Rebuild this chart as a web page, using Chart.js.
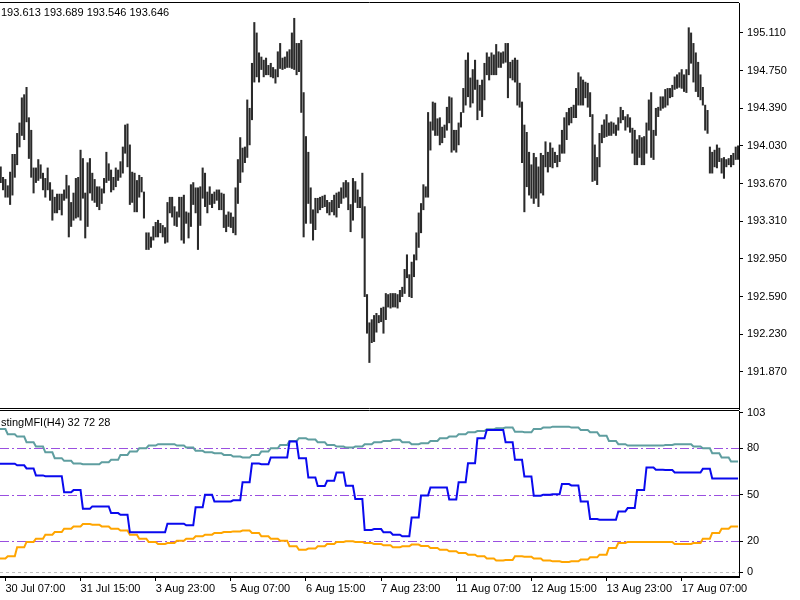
<!DOCTYPE html>
<html>
<head>
<meta charset="utf-8">
<script src="https://cdn.jsdelivr.net/npm/chart.js@4.4.1/dist/chart.umd.min.js"></script>
<style>
  body { margin: 0; background: #fff; }
  #wrap { position: relative; width: 800px; height: 600px; }
  #priceChart { position: absolute; left: 0; top: 0; width: 800px; height: 411px; }
  #mfiChart { position: absolute; left: 0; top: 400px; width: 800px; height: 200px; }
</style>
</head>
<body>
<div id="wrap">
  <canvas id="priceChart" width="800" height="411"></canvas>
  <canvas id="mfiChart" width="800" height="200"></canvas>
</div>
<script>
// H1 bars, high / low
const barHigh = [
  193.83,193.73,193.71,193.65,193.78,193.95,193.95,194.15,194.25,194.49,194.52,194.59,194.30,194.18,193.82,
  193.82,193.90,193.85,193.77,193.72,193.82,193.68,193.61,193.54,193.57,193.57,193.57,193.61,193.75,193.65,
  193.49,193.58,193.72,193.73,193.99,193.91,193.58,193.87,193.91,193.77,193.71,193.64,193.64,193.62,193.72,
  193.97,193.86,193.80,193.73,193.82,193.80,193.88,194.02,194.23,194.24,194.04,193.78,193.77,193.70,193.75,
  193.73,193.59,193.20,193.20,193.16,193.26,193.30,193.32,193.29,193.27,193.25,193.49,193.54,193.54,193.45,
  193.40,193.54,193.54,193.56,193.40,193.39,193.66,193.68,193.63,193.63,193.64,193.82,193.77,193.59,193.64,
  193.57,193.59,193.61,193.61,193.58,193.57,193.37,193.40,193.39,193.35,193.63,193.90,194.11,194.01,194.02,
  194.47,194.39,194.82,195.21,195.11,194.92,194.88,194.85,194.87,194.80,194.82,194.78,194.76,194.93,195.01,
  194.87,194.88,194.93,194.95,195.11,195.25,195.01,195.01,195.04,194.54,194.12,193.97,193.63,193.42,193.53,
  193.53,193.54,193.55,193.56,193.51,193.49,193.51,193.56,193.58,193.59,193.63,193.68,193.70,193.68,193.47,
  193.72,193.69,193.61,193.54,193.77,193.45,192.61,192.34,192.37,192.41,192.43,192.41,192.48,192.49,192.62,
  192.61,192.62,192.62,192.62,192.61,192.65,192.68,192.85,192.99,192.80,192.92,192.99,193.20,193.39,193.48,
  193.66,193.64,194.35,194.26,194.45,194.44,194.29,194.30,194.21,194.23,194.40,194.50,194.49,194.18,194.18,
  194.25,194.35,194.58,194.85,194.92,194.68,194.76,194.85,194.66,194.61,194.66,194.82,194.92,194.88,194.92,
  194.90,195.00,194.93,194.92,194.93,195.01,195.01,194.83,194.85,194.87,194.85,194.63,194.45,194.23,194.16,
  193.97,193.85,193.96,193.92,193.83,193.96,193.94,194.07,193.97,194.06,194.01,193.97,193.94,194.04,194.18,
  194.30,194.35,194.39,194.40,194.42,194.58,194.73,194.69,194.66,194.64,194.63,194.54,194.33,194.04,193.92,
  194.15,194.23,194.28,194.33,194.25,194.26,194.25,194.23,194.30,194.40,194.37,194.31,194.33,194.30,194.20,
  194.18,194.09,194.13,194.11,194.12,194.25,194.47,194.54,194.18,194.39,194.40,194.50,194.50,194.57,194.58,
  194.58,194.61,194.69,194.71,194.73,194.76,194.71,194.76,195.16,195.11,195.01,194.92,194.83,194.71,194.59,
  194.42,194.37,194.02,193.97,193.99,194.04,194.01,193.91,193.92,193.90,193.91,193.94,193.96,194.02,194.03
];
const barLow = [
  193.68,193.61,193.54,193.54,193.47,193.56,193.73,193.85,194.02,194.13,194.09,194.26,193.91,193.73,193.58,
  193.68,193.70,193.72,193.61,193.54,193.61,193.51,193.32,193.39,193.39,193.42,193.37,193.51,193.53,193.16,
  193.26,193.32,193.34,193.35,193.32,193.53,193.15,193.26,193.58,193.51,193.49,193.45,193.42,193.48,193.58,
  193.68,193.70,193.59,193.61,193.64,193.70,193.73,193.77,193.96,193.83,193.47,193.49,193.40,193.40,193.54,
  193.59,193.34,193.04,193.04,193.06,193.13,193.16,193.16,193.20,193.16,193.10,193.11,193.39,193.35,193.27,
  193.26,193.35,193.13,193.10,193.29,193.15,193.26,193.47,193.39,193.04,193.27,193.53,193.45,193.39,193.47,
  193.44,193.48,193.51,193.42,193.42,193.25,193.21,193.26,193.25,193.20,193.18,193.48,193.68,193.78,193.87,
  193.92,194.04,194.28,194.64,194.69,194.64,194.76,194.69,194.71,194.71,194.69,194.68,194.63,194.69,194.77,
  194.76,194.77,194.78,194.78,194.77,194.76,194.71,194.74,194.35,193.16,193.29,193.48,193.29,193.13,193.23,
  193.39,193.42,193.44,193.45,193.39,193.37,193.40,193.37,193.35,193.44,193.48,193.53,193.54,193.42,193.21,
  193.32,193.49,193.44,193.44,193.15,192.59,192.24,191.96,192.15,192.16,192.25,192.34,192.35,192.24,192.37,
  192.49,192.48,192.49,192.49,192.48,192.54,192.59,192.62,192.77,192.59,192.58,192.78,192.94,193.06,193.20,
  193.42,193.54,193.54,193.99,194.18,194.13,194.13,194.04,194.06,194.11,194.18,194.25,193.97,193.99,193.97,
  194.04,194.21,194.35,194.42,194.50,194.40,194.44,194.57,194.28,194.37,194.31,194.47,194.71,194.66,194.71,
  194.71,194.71,194.78,194.78,194.82,194.83,194.49,194.68,194.66,194.64,194.42,194.40,193.87,193.40,193.64,
  193.56,193.53,193.48,193.53,193.45,193.58,193.56,193.83,193.78,193.83,193.82,193.87,193.83,193.88,193.96,
  193.96,194.09,194.23,194.25,194.30,194.30,194.42,194.42,194.42,194.49,194.40,194.31,193.69,193.70,193.66,
  193.83,194.06,194.11,194.12,194.13,194.13,194.15,194.13,194.18,194.25,194.28,194.18,194.21,194.16,193.96,
  193.85,193.85,193.92,193.85,193.85,193.96,194.18,193.92,193.90,194.13,194.31,194.37,194.39,194.40,194.42,
  194.49,194.50,194.57,194.58,194.59,194.58,194.55,194.54,194.71,194.82,194.64,194.55,194.50,194.47,194.42,
  194.18,194.15,193.77,193.77,193.83,193.82,193.88,193.77,193.72,193.83,193.85,193.83,193.85,193.90,193.90
];
const priceTicks = [191.87, 192.23, 192.59, 192.95, 193.31, 193.67, 194.03, 194.39, 194.75, 195.11];
const headerText = "193.613 193.689 193.546 193.646";

// indicator, one value per H4 bar (4 H1 bars each)
const mfiMain = [
  70,70,69,67,62.5,62,62,51.7,53,41,42.5,42.5,38.2,37.1,25.8,25.8,25.8,25.8,31.4,31.4,
  30.3,41.9,50,45.7,45.7,46.4,58.1,70.1,69.7,74,74,84.3,73.6,61.1,55.6,59,64.4,55.8,47.2,27.3,
  27.9,25.8,24.3,23.2,35.4,49.6,54.7,54.7,47,58.1,70.4,86.4,91.8,91.8,83.9,72.5,61.8,49.4,50,50.4,
  56.9,56,45.7,34.4,33.9,33.9,39.3,41.4,53,67.6,66.1,65.9,64.4,64.4,64.4,66.7,60.5,60.5,60.5
];
const mfiUpper = [
  92.4,89,87.5,83.9,81.1,77.4,73.6,71.9,70.1,69.7,69.7,71,72.5,75.7,77.9,80,81.7,82.6,82.6,81.7,
  80.4,78.3,77.4,76.8,75.7,74.6,74,75.7,77.9,80,82.1,84.7,86.4,85.6,83.9,82.1,81.1,80.4,81.1,82.6,
  83.9,84.7,85.4,83.9,82.6,83.2,84.7,86.4,87.5,89,90.3,91.1,92.2,92.9,93.3,90.7,90.3,92.4,93.3,93.9,
  93.9,93.3,91.8,90.3,88.1,84.7,82.6,81.7,81.7,81.7,81.7,82.1,82.6,82.6,81.1,80,76.8,74,71.4
];
const mfiLower = [
  8.9,10.4,16.1,19.6,21.7,24.3,26,28.1,29.6,31.1,30.7,29.6,28.1,26.9,24.3,21.7,19.6,18.3,18.9,20.4,
  21.7,23.2,24.3,25.4,26,26.4,26.9,25.4,23.2,21.7,20.4,16.8,14.6,15.3,16.8,18.3,19.6,20,19.6,18.9,
  18.3,17.4,16.1,16.8,17.9,17,15.7,14.6,13.6,12.5,11.4,10.4,8.9,7.6,8,10.4,10.1,8.9,7.6,7.1,
  6.7,7.1,8.2,9.7,11.4,15.7,18.9,19.6,19.6,19.6,19.6,19.6,18.3,18.3,18.9,21.7,25.4,28.1,29.6
];
const mfiLevels = [80, 50, 20];
const mfiTicks = [0, 20, 50, 80, 103];
const mfiTitle = "stingMFI(H4) 32 72 28";

// time axis
const timeLabels = ["30 Jul 07:00", "31 Jul 15:00", "3 Aug 23:00", "5 Aug 07:00", "6 Aug 15:00",
  "7 Aug 23:00", "11 Aug 07:00", "12 Aug 15:00", "13 Aug 23:00", "17 Aug 07:00"];
const timeTickBars = [2, 34, 66, 98, 130, 162, 194, 226, 258, 290];

const h1PerH4 = 4;
const firstH4Start = -1;
const FONT = { family: "'Liberation Sans', Arial, sans-serif", size: 11 };

function stepPoints(vals) {
  const pts = [];
  vals.forEach((v, k) => {
    const start = firstH4Start + k * h1PerH4;
    pts.push({ x: start, y: v }, { x: start + h1PerH4 - 1, y: v });
  });
  return pts;
}

const frame = {
  id: "frame",
  afterDatasetsDraw(chart) {
    const { ctx, chartArea: a } = chart;
    ctx.save();
    ctx.strokeStyle = "#000";
    ctx.lineWidth = 1;
    ctx.beginPath();
    ctx.moveTo(0, Math.round(a.top) - 0.5);
    ctx.lineTo(a.right, Math.round(a.top) - 0.5);
    ctx.moveTo(0, Math.round(a.bottom) - 0.5);
    ctx.lineTo(a.right, Math.round(a.bottom) - 0.5);
    ctx.stroke();
    ctx.restore();
  }
};

function titleText(text, y) {
  return {
    id: "title" + y,
    afterDraw(chart) {
      const ctx = chart.ctx;
      ctx.save();
      ctx.font = FONT.size + "px " + FONT.family;
      ctx.fillStyle = "#000";
      ctx.textBaseline = "middle";
      ctx.fillText(text, 1, y);
      ctx.restore();
    }
  };
}

const levelLines = {
  id: "levels",
  beforeDatasetsDraw(chart) {
    const { ctx, chartArea: a, scales } = chart;
    ctx.save();
    ctx.lineWidth = 1;
    ctx.strokeStyle = "#9a4fe0";
    ctx.setLineDash([9, 3, 2, 3]);
    mfiLevels.forEach((lv) => {
      const y = Math.round(scales.y.getPixelForValue(lv)) + 0.5;
      ctx.beginPath();
      ctx.moveTo(a.left, y);
      ctx.lineTo(a.right, y);
      ctx.stroke();
    });
    ctx.strokeStyle = "#c0c0c0";
    ctx.setLineDash([3, 3]);
    const y0 = Math.round(scales.y.getPixelForValue(0)) + 0.5;
    ctx.beginPath();
    ctx.moveTo(a.left, y0);
    ctx.lineTo(a.right, y0);
    ctx.stroke();
    ctx.restore();
  }
};

const xRange = { min: -0.3, max: 314.4 };
const noPad = (s) => { s.paddingTop = 0; s.paddingBottom = 0; s.paddingLeft = 0; s.paddingRight = 0; };

new Chart(document.getElementById("priceChart"), {
  type: "bar",
  data: {
    datasets: [{
      data: barHigh.map((h, i) => ({ x: i, y: [barLow[i], h] })),
      backgroundColor: "#2a2a2a",
      barThickness: 1.4,
      grouped: false
    }]
  },
  options: {
    animation: false,
    responsive: false,
    maintainAspectRatio: false,
    layout: { autoPadding: false, padding: { top: 3, bottom: 2, left: 0, right: 0 } },
    plugins: { legend: { display: false }, tooltip: { enabled: false } },
    scales: {
      x: { type: "linear", offset: false, min: xRange.min, max: xRange.max, display: false },
      y: {
        position: "right",
        min: 191.516,
        max: 195.396,
        afterBuildTicks: (s) => { s.ticks = priceTicks.map((v) => ({ value: v })); },
        afterFit: (s) => { s.width = 61; noPad(s); },
        ticks: { callback: (v) => v.toFixed(3), color: "#000", font: FONT, padding: 4 },
        grid: { drawOnChartArea: false, tickLength: 4, color: "#000" },
        border: { color: "#000" }
      }
    }
  },
  plugins: [frame, titleText(headerText, 12.5)]
});

new Chart(document.getElementById("mfiChart"), {
  type: "line",
  data: {
    datasets: [
      { data: stepPoints(mfiMain), borderColor: "#0a0aee", borderWidth: 2 },
      { data: stepPoints(mfiUpper), borderColor: "#5f9ea0", borderWidth: 2 },
      { data: stepPoints(mfiLower), borderColor: "#ffa500", borderWidth: 2 }
    ]
  },
  options: {
    animation: false,
    responsive: false,
    maintainAspectRatio: false,
    layout: { autoPadding: false, padding: { top: 11, bottom: 0, left: 0, right: 0 } },
    elements: { point: { radius: 0 }, line: { tension: 0 } },
    plugins: { legend: { display: false }, tooltip: { enabled: false } },
    scales: {
      x: {
        type: "linear",
        offset: false,
        min: xRange.min,
        max: xRange.max,
        afterBuildTicks: (s) => { s.ticks = timeTickBars.map((v) => ({ value: v })); },
        afterFit: (s) => { s.height = 23; noPad(s); },
        ticks: {
          callback: (v, i) => timeLabels[i],
          align: "start",
          autoSkip: false,
          maxRotation: 0,
          color: "#000",
          font: FONT,
          padding: 1
        },
        grid: { drawOnChartArea: false, tickLength: 4, color: "#000" },
        border: { color: "#000" }
      },
      y: {
        position: "right",
        min: -3,
        max: 104,
        afterBuildTicks: (s) => { s.ticks = mfiTicks.map((v) => ({ value: v })); },
        afterFit: (s) => { s.width = 61; noPad(s); },
        ticks: { color: "#000", font: FONT, padding: 4 },
        grid: { drawOnChartArea: false, tickLength: 4, color: "#000" },
        border: { color: "#000" }
      }
    }
  },
  plugins: [levelLines, frame, titleText(mfiTitle, 22.5)]
});
</script>
</body>
</html>
